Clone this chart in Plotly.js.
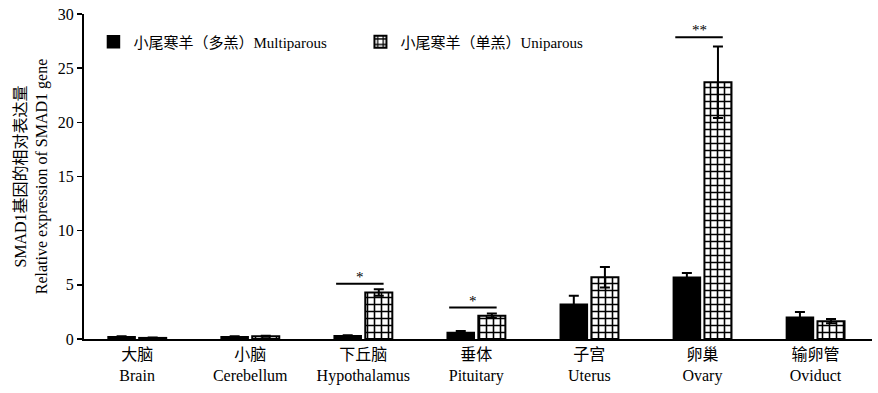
<!DOCTYPE html>
<html><head><meta charset="utf-8">
<script src="https://cdn.plot.ly/plotly-3.0.1.min.js"></script>
<style>body{margin:0}#c{width:878px;height:393px}</style>
</head><body><div id="c"></div>
<script>
const categoriesCN = ["大脑","小脑","下丘脑","垂体","子宫","卵巢","输卵管"];
const categoriesEN = ["Brain","Cerebellum","Hypothalamus","Pituitary","Uterus","Ovary","Oviduct"];
const multiparous = [0.2, 0.2, 0.3, 0.6, 3.2, 5.7, 2.0];
const multiparousErr = [0.05, 0.05, 0.05, 0.15, 0.8, 0.4, 0.5];
const uniparous = [0.1, 0.25, 4.3, 2.15, 5.7, 23.7, 1.65];
const uniparousErr = [0.05, 0.05, 0.3, 0.2, 0.95, 3.3, 0.2];
const seriesNames = ["小尾寒羊（多羔）Multiparous","小尾寒羊（单羔）Uniparous"];
const sigCategory = [2, 3, 5];
const sigLevel = [5.1, 2.9, 27.85];
const sigLabel = ["*", "*", "**"];

const idx = categoriesCN.map((_, i) => i);
const fam = "Liberation Serif, Noto Sans CJK SC, serif";
const font = {family: fam, size: 16, color: "#000"};
const legFont = {family: fam, size: 15, color: "#000"};

const traces = [
  {type: "bar", name: seriesNames[0], x: idx, y: multiparous,
   marker: {color: "#000", line: {color: "#000", width: 1.5}},
   error_y: {type: "data", array: multiparousErr, visible: true, color: "#000", thickness: 2, width: 5}},
  {type: "bar", name: seriesNames[1], x: idx, y: uniparous,
   marker: {color: "#fff", line: {color: "#000", width: 2},
            pattern: {shape: "+", fgcolor: "#000", bgcolor: "#fff", size: 7, solidity: 0.4}},
   error_y: {type: "data", array: uniparousErr, visible: true, color: "#000", thickness: 2, width: 5}}
];

const shapes = sigCategory.map((c, i) => ({
  type: "line", xref: "x", yref: "y", x0: c - 0.24, x1: c + 0.18, y0: sigLevel[i], y1: sigLevel[i],
  line: {color: "#000", width: 2}
}));
const annotations = sigCategory.map((c, i) => ({
  xref: "x", yref: "y", x: c - 0.03, y: sigLevel[i], text: sigLabel[i], showarrow: false,
  yanchor: "bottom", font: {family: fam, size: 15, color: "#000"}, yshift: -3
}));

const layout = {
  width: 878, height: 393,
  margin: {l: 84, r: 6, t: 14, b: 54},
  paper_bgcolor: "#fff", plot_bgcolor: "#fff",
  font: font,
  barmode: "group", bargap: 0.45, bargroupgap: 0.13,
  showlegend: true,
  legend: {orientation: "h", x: 0.012, y: 0.914, xanchor: "left", yanchor: "middle",
           font: legFont, entrywidth: 222, entrywidthmode: "pixels", bgcolor: "rgba(0,0,0,0)",
           itemwidth: 30},
  xaxis: {range: [-0.47, 6.5], tickvals: idx,
          ticktext: idx.map(i => categoriesCN[i] + "<br>" + categoriesEN[i]),
          showline: true, linecolor: "#000", linewidth: 2, ticks: "", showgrid: false, zeroline: false,
          tickfont: font},
  yaxis: {range: [0, 30], dtick: 5, showline: true, linecolor: "#000", linewidth: 2,
          ticks: "outside", ticklen: 5, tickwidth: 1.5, tickcolor: "#000", showgrid: false, zeroline: false,
          tickfont: font,
          title: {text: "SMAD1基因的相对表达量<br>Relative expression of SMAD1 gene", font: font, standoff: 6}},
  shapes: shapes, annotations: annotations
};
Plotly.newPlot("c", traces, layout, {displayModeBar: false, staticPlot: true});
</script></body></html>
